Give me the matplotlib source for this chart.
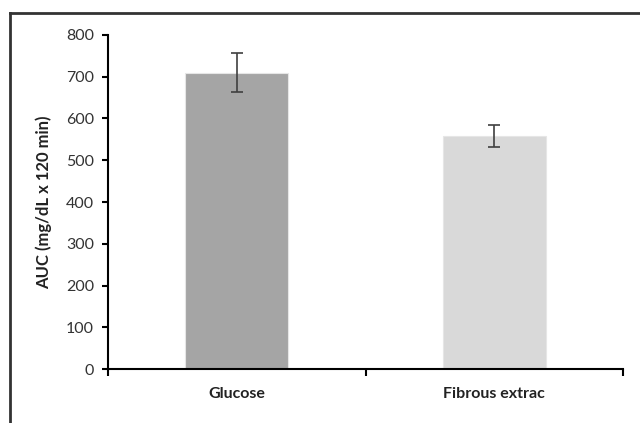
import matplotlib
matplotlib.use("Agg")
import matplotlib.pyplot as plt
from matplotlib.lines import Line2D

categories = ["Glucose", "Fibrous extrac"]
auc_values = [710, 558]
auc_errors = [46, 26]
bar_colors = ["#a5a5a5", "#d9d9d9"]
y_ticks = [0, 100, 200, 300, 400, 500, 600, 700, 800]

plt.rcParams['font.family'] = ['Lato', 'DejaVu Sans']

fig = plt.figure(figsize=(6.4, 4.23), dpi=100)
ax = fig.add_axes([108/640, 1-369/423, (623-108)/640, (369-35)/423])

x = list(range(len(categories)))
ax.bar(x, auc_values, width=0.4, color=bar_colors, edgecolor="#e6e6e6", linewidth=0.8, zorder=2)
ax.errorbar(x, auc_values, yerr=auc_errors, fmt="none", ecolor="#404040",
            elinewidth=1.2, capsize=4, capthick=1.2, zorder=3)

ax.set_xlim(-0.5, 1.5)
ax.set_ylim(0, 800)
ax.set_yticks(y_ticks)
ax.set_yticklabels([str(v) for v in y_ticks], fontsize=11.5, color="#333333")
ax.set_xticks(x)
ax.set_xticklabels(categories, fontsize=11.5, fontweight="bold", color="#222222")
ax.set_xticks([-0.5, 0.5, 1.5], minor=True)
ax.tick_params(axis="x", which="major", length=0, pad=13)
ax.tick_params(axis="x", which="minor", length=5, width=1.5, direction="out", color="black")
ax.tick_params(axis="y", length=4, width=1.5, direction="out", color="black", pad=6)
ax.set_ylabel("AUC (mg/dL x 120 min)", fontsize=12, fontweight="bold", color="#222222", labelpad=10)

for s in ["top", "right"]:
    ax.spines[s].set_visible(False)
for s in ["left", "bottom"]:
    ax.spines[s].set_linewidth(1.5)
    ax.spines[s].set_color("black")

# outer frame (left and top edges visible)
fig.add_artist(Line2D([10/640, 10/640], [0, 1-13/423], transform=fig.transFigure,
                      color="#333333", linewidth=2))
fig.add_artist(Line2D([10/640, 1], [1-13/423, 1-13/423], transform=fig.transFigure,
                      color="#333333", linewidth=2))

fig.savefig("out.png", dpi=100)
